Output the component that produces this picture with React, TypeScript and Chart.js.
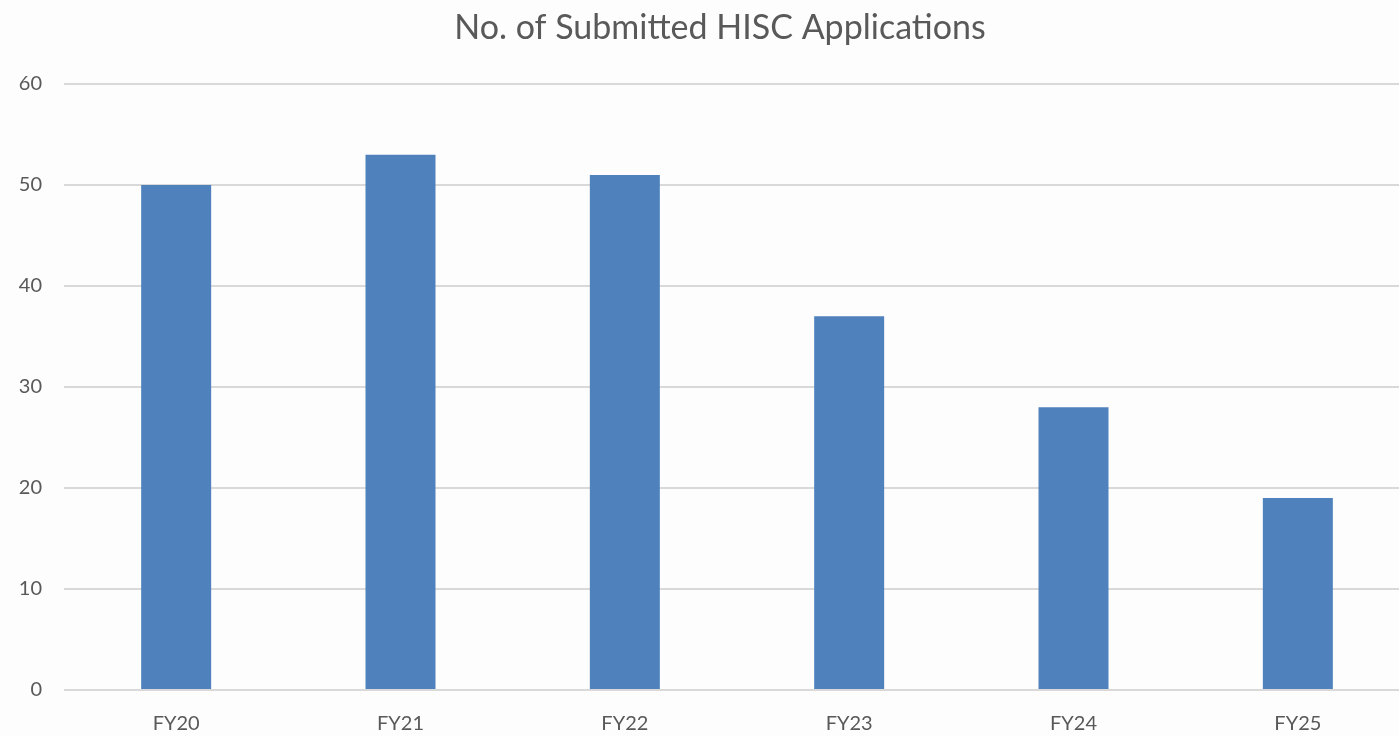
import React, { useEffect, useRef } from "react";
import { Chart, registerables } from "chart.js";

Chart.register(...registerables);

const categories = ["FY20", "FY21", "FY22", "FY23", "FY24", "FY25"];
const submitted = [50, 53, 51, 37, 28, 19];
const titleText = "No. of Submitted HISC Applications";

const FONT = "Lato, 'Open Sans', 'Liberation Sans', sans-serif";
const TEXT = "#595959";

export default function App() {
  const ref = useRef<HTMLCanvasElement | null>(null);

  useEffect(() => {
    document.body.style.margin = "0";
    document.body.style.overflow = "hidden";
    const ctx = ref.current!;
    const bg = {
      id: "bg",
      beforeDraw(chart: any) {
        const c = chart.ctx;
        c.save();
        c.fillStyle = "#fdfdfd";
        c.fillRect(0, 0, chart.width, chart.height);
        c.restore();
      },
      afterDraw(chart: any) {
        const c = chart.ctx;
        c.save();
        c.fillStyle = TEXT;
        c.font = `normal 34px ${FONT}`;
        c.textAlign = "center";
        c.textBaseline = "middle";
        c.fillText(titleText, 720, 28);
        c.restore();
      },
    };
    const chart = new Chart(ctx, {
      type: "bar",
      data: {
        labels: categories,
        datasets: [
          {
            label: "Submitted",
            data: submitted,
            backgroundColor: "#4f81bd",
            barPercentage: 0.312,
            categoryPercentage: 1,
          },
        ],
      },
      options: {
        animation: false,
        responsive: false,
        maintainAspectRatio: false,
        layout: { padding: { left: 0, right: 0, top: 84, bottom: 0 } },
        plugins: {
          legend: { display: false },
          tooltip: { enabled: false },
          title: { display: false },
        },
        scales: {
          x: {
            grid: { display: false, drawTicks: false },
            border: { display: false },
            ticks: {
              color: TEXT,
              font: { family: FONT, size: 20 },
              padding: 22,
            },
            afterFit(scale: any) {
              scale.height = 46;
            },
          },
          y: {
            min: 0,
            max: 60,
            ticks: {
              stepSize: 10,
              color: TEXT,
              font: { family: FONT, size: 20 },
              padding: 22,
            },
            grid: { color: "#d9d9d9", lineWidth: 2, drawTicks: false },
            border: { display: false },
            afterFit(scale: any) {
              scale.width = 64;
            },
          },
        },
      },
      plugins: [bg],
    });
    return () => chart.destroy();
  }, []);

  return (
    <div
      style={{
        position: "fixed",
        left: 0,
        top: 0,
        width: 1399,
        height: 736,
        overflow: "hidden",
        background: "#fdfdfd",
      }}
    >
      <canvas ref={ref} width={1410} height={736} style={{ display: "block" }} />
    </div>
  );
}
